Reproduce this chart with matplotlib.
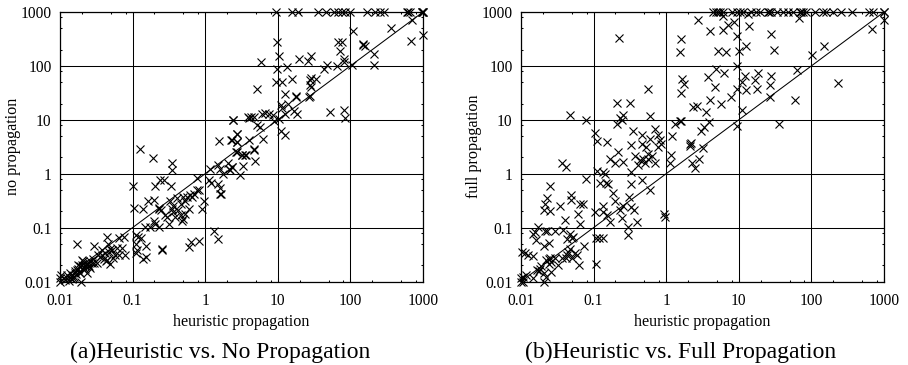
import matplotlib
matplotlib.use('Agg')
import matplotlib.pyplot as plt
import numpy as np
from matplotlib.ticker import FixedLocator, FixedFormatter, NullFormatter

plt.rcParams['font.family'] = ['Liberation Serif', 'DejaVu Serif']

# all values as log10(runtime), (heuristic, other)
tick_labels = ['0.01', '0.1', '1', '10', '100', '1000']
tick_values = [0.01, 0.1, 1, 10, 100, 1000]

# (a) runs that hit the 1000 limit on the y side: log10 x only
a_timeout_x = [.97, 1.19, 1.28, 1.56, 1.66, 1.77, 1.83, 1.88, 1.93, 2.0, 2.23, 2.34, 2.41, 2.46,
               2.78, 2.8, 2.82, 3.0, 3.0, 2.98, 2.99]
a_high = [(2.85, 2.86), (2.56, 2.70), (3.0, 2.57), (2.84, 2.46), (2.03, 2.64), (1.83, 2.44),
          (1.885, 2.45), (.99, 2.45), (2.17, 2.41), (2.2, 2.36), (2.18, 2.39), (1.85, 2.28),
          (2.33, 2.23), (1.02, 2.18), (1.46, 2.18), (1.29, 2.12), (1.41, 2.09), (1.91, 2.13),
          (.77, 2.08), (1.91, 2.07), (1.68, 2.01), (1.63, 1.95), (1.81, 2.0), (2.02, 2.02),
          (2.33, 2.01), (1.13, 1.98), (.99, 1.95), (.97, 1.70), (1.06, 1.70), (1.2, 1.75),
          (.72, 1.57), (1.46, 1.78), (1.44, 1.73), (1.53, 1.75), (1.44, 1.64), (1.46, 1.6),
          (1.1, 1.48), (1.25, 1.44), (1.255, 1.42), (1.43, 1.42), (1.44, 1.45), (1.05, 1.28),
          (1.14, 1.3), (1.06, 1.22), (1.1, 1.1), (1.22, 1.16), (1.27, 1.11), (1.72, 1.15),
          (1.91, 1.19), (1.93, 1.04), (.385, .99), (.59, 1.05), (.6, 1.03), (.63, 1.05),
          (.67, 1.05), (.78, 1.1), (.83, 1.12), (.88, 1.11), (.94, 1.08), (.95, .98), (1.01, 1.02),
          (.72, .9), (.76, .87), (1.05, .8), (1.1, .71)]
a_mid = [(.44, .73), (.44, .59), (.37, .62), (.6, .62), (.79, .65), (.67, .44), (.44, .4),
         (.51, .35), (.555, .35), (.68, .23), (.52, .15), (.37, .12), (.48, -.02), (-.9, .46),
         (-.72, .29), (-.46, .2), (-.46, .06), (-.11, -.08), (.07, .08), (.05, -.11), (.08, -.17),
         (.17, .17), (.2, .09), (.25, -.01), (.32, .2), (.33, .09), (.37, .12), (.34, .06),
         (.18, -.19), (.21, -.26), (.22, -.38), (.19, .61), (.36, .62), (.44, .74), (.44, .59),
         (.43, .4), (.5, .34), (.56, .35), (.67, .45), (.38, .99)]
a_low = [(-.99, -.235), (-.69, -.22), (-.62, -.12), (-.57, -.12), (-.47, -.235), (-.79, -.51),
         (-.7, -.48), (-.98, -.64), (-.86, -.65), (-.63, -.65), (-.61, -.67), (-.64, -.63),
         (-.53, -.8), (-.55, -.77), (-.48, -.5), (-.44, -.59), (-.39, -.46), (-.34, -.57),
         (-.3, -.43), (-.25, -.43), (-.21, -.4), (-.16, -.37), (-.11, -.31), (-.09, -.3),
         (-.28, -.5), (-.18, -.43), (-.01, -.5), (-.04, -.66), (-.46, -.65), (-.37, -.68),
         (-.34, -.77), (-.44, -.71), (-.23, -.65), (-.3, -.84), (-.28, -.74), (-.32, -.88),
         (-.41, -.8), (-.5, -.94), (-.71, -.88), (-.69, -.93), (-.83, -.98), (-.76, -.98),
         (-.64, -.98), (.21, -.37), (-.23, -1.36), (-.2, -1.27), (-.08, -1.25), (.12, -1.06),
         (.17, -1.22), (-.6, -1.41), (-.96, -1.13), (-.92, -1.17), (-.88, -1.2), (-.95, -1.3),
         (-.82, -1.34), (-.96, -1.48), (-.94, -1.42), (-.82, -1.54), (-.85, -1.59), (-.6, -1.4)]
a_bottom = [(-1.77, -1.3), (-1.53, -1.35), (-1.35, -1.17), (-1.19, -1.19), (-1.12, -1.17),
            (-1.34, -1.3), (-1.31, -1.4), (-1.38, -1.48), (-1.42, -1.5), (-1.33, -1.45),
            (-1.29, -1.42), (-1.24, -1.51), (-1.19, -1.51), (-1.15, -1.38), (-1.1, -1.5),
            (-1.35, -1.6), (-1.31, -1.67), (-1.42, -1.42), (-1.22, -1.38), (-1.47, -1.51),
            (-1.49, -1.65), (-1.56, -1.65), (-1.61, -1.67), (-1.65, -1.69), (-1.7, -1.6),
            (-1.63, -1.7), (-1.75, -1.76), (-1.68, -1.76), (-1.72, -1.85), (-1.79, -1.85),
            (-1.63, -1.85), (-1.82, -1.94), (-1.86, -1.94), (-1.91, -1.94), (-1.84, -1.88),
            (-1.77, -1.79), (-1.71, -2), (-1.98, -1.88), (-2, -1.94), (-1.88, -1.99), (-2, -2),
            (-1.93, -1.97), (-1.84, -1.96), (-1.78, -1.87), (-1.68, -1.62), (-1.62, -1.63),
            (-1.53, -1.66), (-1.72, -1.72), (-1.66, -1.72), (-1.74, -1.82), (-1.81, -1.91),
            (-1.45, -1.55), (-1.4, -1.58), (-1.37, -1.62), (-1.27, -1.57), (-1.55, -1.58),
            (-1.58, -1.62), (-1.6, -1.72), (-1.66, -1.77), (-1.58, -1.75), (-1.8, -1.8),
            (-1.86, -1.85), (-1.9, -1.88), (-1.94, -1.94), (-1.7, -1.69), (-1.75, -1.7)]

# (b) runs that hit the limit
b_timeout_x = [.65, .69, .72, .74, .78, .9, .97, 1.01, 1.06, 1.17, 1.24, 1.29, 1.4, 1.42, 1.45, 1.52,
               1.61, 1.68, 1.75, 1.84, 1.86, 1.88, 1.93, 2.05, 2.16, 2.2, 2.3, 2.41, 2.56, 2.8, 2.85,
               3.0, 3.0]
b_high = [(3, 2.85), (2.84, 2.69), (1.83, 2.89), (2.18, 2.36), (2.01, 2.2), (.44, 2.85), (.78, 2.92),
          (1.13, 2.96), (.94, 2.81), (.85, 2.75), (.78, 2.67), (.6, 2.64), (1.14, 2.74), (1.44, 2.6),
          (.98, 2.55), (.21, 2.5), (1.1, 2.36), (1, 2.28), (.72, 2.28), (.83, 2.26), (1.48, 2.29),
          (.19, 2.26), (.98, 2.0), (.68, 1.95), (.8, 1.87), (.58, 1.79), (.22, 1.75), (.25, 1.67),
          (.2, 1.5), (1.8, 1.92), (1.27, 1.87), (1.09, 1.81), (1.04, 1.71), (1.22, 1.74), (1.45, 1.82),
          (1.43, 1.65), (.67, 1.6), (.98, 1.58), (1.1, 1.55), (1.25, 1.58), (.89, 1.42), (.6, 1.37),
          (.75, 1.3), (1.43, 1.42), (1.78, 1.37), (2.36, 1.69), (.37, 1.24), (.43, 1.25), (.55, 1.14),
          (1.05, 1.19), (.21, .98), (.59, .96), (.52, .87), (.48, .8), (.98, .89), (1.55, .92),
          (.33, .56), (.34, .57), (.33, .51), (.5, .48), (.45, .28), (.36, .2), (.39, .1)]
b_mid = [(-.65, 2.52), (-.25, 1.58), (-.68, 1.32), (-.5, 1.32), (-1.33, 1.09), (-1.1, .99),
         (-.59, 1.08), (-.64, 1.04), (-.68, .93), (-.61, 1.0), (-.22, 1.07), (.19, .98), (.12, .92),
         (-.98, .76), (-.96, .6), (-.81, .59), (-.46, .8), (-.34, .71), (-.16, .83), (-.11, .71),
         (-.09, .62), (-.11, .49), (-.07, .55), (-.22, .65), (-.48, .53), (-.34, .56), (-.28, .49),
         (-.43, .32), (.08, .7), (.07, .35), (.05, .19), (-.67, .4), (-.78, .28), (-.7, .19),
         (-.6, .21), (-.36, .25), (-.32, .28), (-.29, .19), (-.25, .37), (-.2, .33), (-.39, .16),
         (-.25, .28), (-.16, .19), (-1.44, .2), (-1.38, .12), (-.96, .05), (-.87, .03), (-.84, 0),
         (-1.1, -.09), (-.49, .03)]
b_low = [(-1.6, -.23), (-.91, -.17), (-.83, -.17), (-.8, -.19), (-.48, -.2), (-.34, -.11),
         (-.22, -.31), (-.73, -.36), (-.51, -.43), (-1.31, -.4), (-1.31, -.49), (-1.19, -.57),
         (-1.14, -.57), (-1.46, -.59), (-1.64, -.46), (-1.67, -.56), (-1.69, -.67), (-1.6, -.69),
         (-.98, -.71), (-.87, -.6), (-.87, -.71), (-.82, -.77), (-.71, -.51), (-.59, -.59),
         (-.48, -.62), (-.45, -.67), (-.64, -.67), (-.61, -.82), (-.78, -.9), (-1.22, -.75),
         (-1.39, -.85), (-1.19, -.94), (-.03, -.74), (-.01, -.8), (-.4, -.9), (-.52, -.99),
         (-.53, -1.14)]
b_bottom = [(-1.76, -.99), (-1.83, -1.11), (-1.81, -1.08), (-1.67, -1.06), (-1.64, -1.07),
            (-1.53, -1.06), (-1.42, -1.05), (-1.79, -1.23), (-1.62, -1.28), (-1.69, -1.35),
            (-1.33, -1.11), (-1.3, -1.2), (-1.28, -1.17), (-1.36, -1.22), (-1.13, -1.35),
            (-.97, -1.2), (-.92, -1.2), (-.87, -1.19), (-.97, -1.68), (-1.99, -1.45), (-1.9, -1.51),
            (-1.83, -1.53), (-1.95, -1.48), (-1.33, -1.39), (-1.35, -1.45), (-1.26, -1.48),
            (-1.3, -1.56), (-1.23, -1.51), (-1.38, -1.57), (-1.2, -1.69), (-1.65, -1.6), (-1.6, -1.57),
            (-1.53, -1.56), (-1.62, -1.67), (-1.49, -1.7), (-1.72, -1.72), (-1.74, -1.76),
            (-1.59, -1.82), (-1.69, -1.85), (-1.78, -1.79), (-1.93, -1.88), (-1.97, -1.91),
            (-2, -1.94), (-1.97, -2), (-1.83, -1.94), (-1.69, -2), (-1.65, -1.91), (-1.58, -1.64),
            (-1.44, -1.57), (-1.37, -1.51), (-2, -2), (-1.62, -1.59), (-1.75, -1.8)]


def panel(ax, groups, timeout_x, ylabel, caption):
    pts = 10 ** np.array([p for g in groups for p in g])
    ax.plot([0.01, 1000], [0.01, 1000], color='black', lw=0.75, zorder=2)
    ax.plot(pts[:, 0], pts[:, 1], 'x', color='black', ms=5.4, mew=0.8, clip_on=False, zorder=3)
    ax.plot(10 ** np.array(timeout_x), np.full(len(timeout_x), 1000.0), 'x', color='black',
            ms=5.4, mew=0.8, clip_on=False, zorder=3)
    ax.set_xscale('log')
    ax.set_yscale('log')
    ax.set_xlim(0.01, 1000)
    ax.set_ylim(0.01, 1000)
    minor = [m * v for v in tick_values[:-1] for m in (2, 5, 8)]
    for axis in (ax.xaxis, ax.yaxis):
        axis.set_major_locator(FixedLocator(tick_values))
        axis.set_major_formatter(FixedFormatter(tick_labels))
        axis.set_minor_locator(FixedLocator(minor))
        axis.set_minor_formatter(NullFormatter())
    ax.tick_params(which='major', direction='in', length=3, width=0.75, top=True, right=True,
                   labelsize=11.2)
    ax.tick_params(axis='x', which='major', pad=8)
    ax.tick_params(axis='y', which='major', pad=6)
    ax.tick_params(which='minor', direction='in', length=1.5, width=0.75, top=True, right=True)
    ax.grid(True, which='major', color='black', lw=0.75)
    ax.set_axisbelow(True)
    for s in ax.spines.values():
        s.set_linewidth(0.9)
    ax.set_xlabel('heuristic propagation', fontsize=11.6, va='center')
    ax.xaxis.set_label_coords(0.5, -0.15)
    ax.set_ylabel(ylabel, fontsize=11.6, va='center')
    ax.yaxis.set_label_coords(-0.13, 0.5)
    ax.text(0.44, -0.262, caption, transform=ax.transAxes, ha='center', va='center', fontsize=17)


fig = plt.figure(figsize=(9.08, 3.65), dpi=100)
ax1 = fig.add_axes([60 / 908, 1 - 281.5 / 365, 363 / 908, 269.5 / 365])
ax2 = fig.add_axes([521 / 908, 1 - 281.5 / 365, 363 / 908, 269.5 / 365])

panel(ax1, [a_high, a_mid, a_low, a_bottom], a_timeout_x, 'no propagation',
      '(a)Heuristic vs. No Propagation')
panel(ax2, [b_high, b_mid, b_low, b_bottom], b_timeout_x, 'full propagation',
      '(b)Heuristic vs. Full Propagation')

fig.savefig('out.png', dpi=100)
